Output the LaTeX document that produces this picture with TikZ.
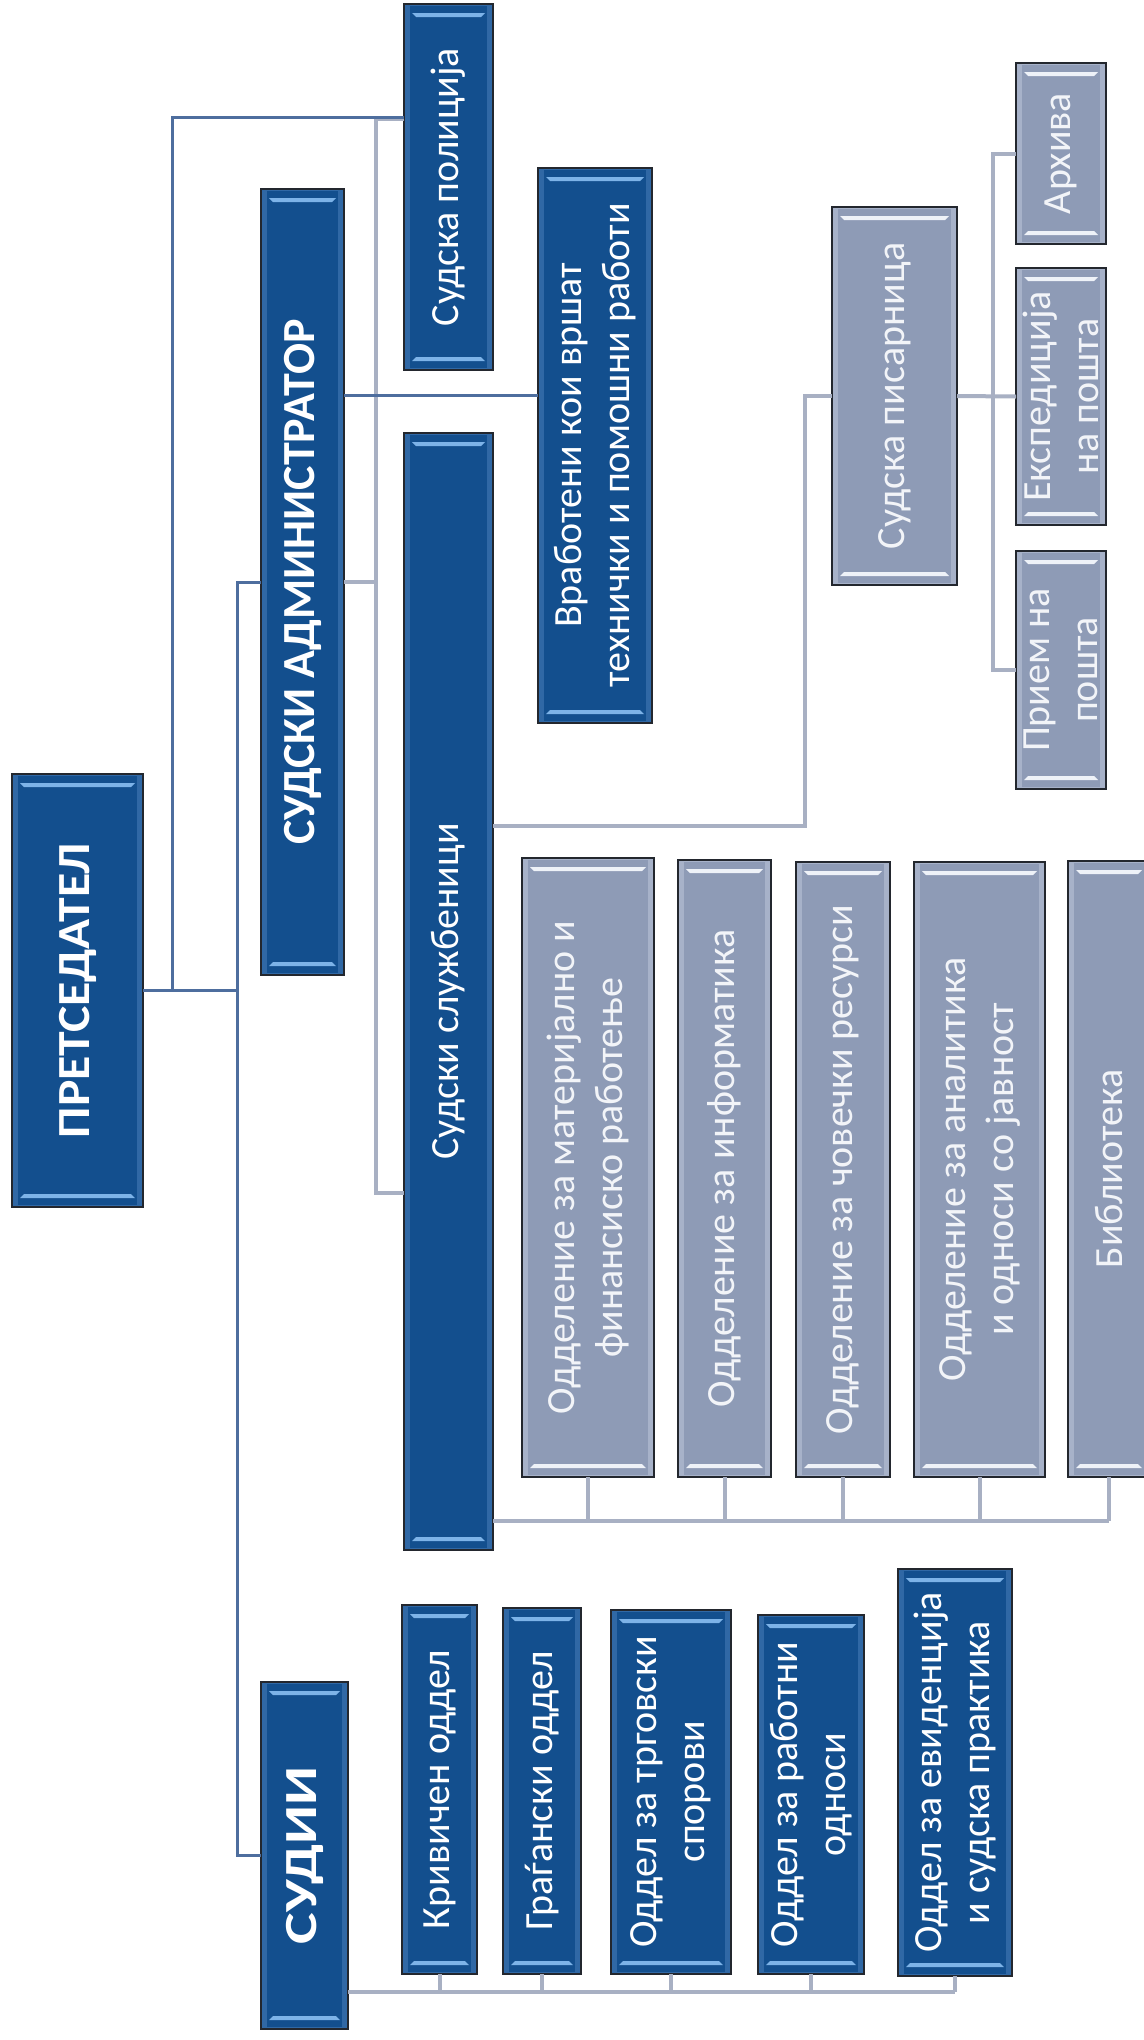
\documentclass[tikz,border=0pt]{standalone}
\usepackage{fontspec}
\usepackage{graphicx}
\setmainfont{Carlito}
\definecolor{dkfill}{HTML}{134F8E}
\definecolor{dkedge}{HTML}{3068A5}
\definecolor{dkhi}{HTML}{7DB3E8}
\definecolor{gyfill}{HTML}{8E9BB6}
\definecolor{gyedge}{HTML}{A7B2C9}
\definecolor{gyhi}{HTML}{EEF2F8}
\definecolor{bord}{HTML}{23272E}
\definecolor{dkline}{HTML}{4E6E9E}
\definecolor{ltline}{HTML}{A8B0C3}
\definecolor{gytext}{HTML}{F2F4F8}
\tikzset{
  boxbase/.style={rectangle, draw=bord, line width=0.8pt, inner sep=0pt, outer sep=0pt},
  bevel/.style n args={3}{path picture={
     \fill[#1] (path picture bounding box.south west) rectangle (path picture bounding box.north east);
     \fill[#2] ([xshift=3pt,yshift=-1pt]path picture bounding box.north west) rectangle ([xshift=-3pt,yshift=1pt]path picture bounding box.south east);
     \fill[#3] ([xshift=4pt,yshift=-4.5pt]path picture bounding box.north west) -- ([xshift=-4pt,yshift=-4.5pt]path picture bounding box.north east) -- ([xshift=-6pt,yshift=-6.5pt]path picture bounding box.north east) -- ([xshift=6pt,yshift=-6.5pt]path picture bounding box.north west) -- cycle;
     \fill[#3] ([xshift=4pt,yshift=4.5pt]path picture bounding box.south west) -- ([xshift=-4pt,yshift=4.5pt]path picture bounding box.south east) -- ([xshift=-6pt,yshift=6.5pt]path picture bounding box.south east) -- ([xshift=6pt,yshift=6.5pt]path picture bounding box.south west) -- cycle;
  }},
  dkbox/.style={boxbase, bevel={dkedge}{dkfill}{dkhi}},
  gybox/.style={boxbase, bevel={gyedge}{gyfill}{gyhi}},
  tx/.style={rotate=90, text=white, align=center, inner sep=0pt, font=\fontsize{20}{24}\selectfont},
  gtx/.style={tx, text=gytext},
  btx/.style={tx, font=\bfseries\fontsize{23}{27}\selectfont},
  dkl/.style={draw=dkline, line width=1.5pt},
  ltl/.style={draw=ltline, line width=2pt},
}
\newcommand\mkbox[6]{%
  \node[#1, minimum width={(#5-#3)*0.5pt}, minimum height={(#6-#4)*0.5pt}] (#2) at ({(#3+#5)/2},{(#4+#6)/2}) {};}
\begin{document}
\begin{tikzpicture}[x=0.5pt, y=-0.5pt]
\useasboundingbox (0,0) rectangle (1144,2040);
\fill[white] (0,0) rectangle (1144,2040);
% boxes
\mkbox{dkbox}{pres}{12}{774}{143}{1207}
\mkbox{dkbox}{admin}{261}{189}{344}{975}
\mkbox{dkbox}{judges}{261}{1682}{348}{2029}
\mkbox{dkbox}{police}{404}{4}{493}{370}
\mkbox{dkbox}{clerks}{404}{433}{493}{1550}
\mkbox{dkbox}{workers}{538}{168}{652}{723}
\mkbox{gybox}{pis}{832}{207}{957}{585}
\mkbox{gybox}{arh}{1016}{63}{1106}{244}
\mkbox{gybox}{eksp}{1016}{268}{1106}{525}
\mkbox{gybox}{priem}{1016}{551}{1106}{789}
\mkbox{gybox}{od1}{522}{858}{654}{1477}
\mkbox{gybox}{od2}{678}{860}{771}{1477}
\mkbox{gybox}{od3}{796}{862}{890}{1477}
\mkbox{gybox}{od4}{914}{862}{1045}{1477}
\mkbox{gybox}{od5}{1068}{861}{1150}{1477}
\mkbox{dkbox}{krim}{402}{1605}{477}{1974}
\mkbox{dkbox}{grag}{503}{1608}{581}{1974}
\mkbox{dkbox}{trg}{611}{1610}{731}{1974}
\mkbox{dkbox}{rab}{758}{1615}{864}{1974}
\mkbox{dkbox}{evid}{898}{1569}{1012}{1976}
% texts
\node[btx] (pres-t) at (pres) {\scalebox{1.08}[1]{ПРЕТСЕДАТЕЛ}};
\node[btx] (admin-t) at (admin) {СУДСКИ АДМИНИСТРАТОР};
\node[btx] (judges-t) at (judges) {\scalebox{1.3}[1]{СУДИИ}};
\node[tx] (police-t) at (police) {Судска полиција};
\node[tx] (clerks-t) at (clerks) {Судски службеници};
\node[tx] (workers-t) at (workers) {Вработени кои вршат\\технички и помошни работи};
\node[gtx] (pis-t) at (pis) {Судска писарница};
\node[gtx] (arh-t) at (arh) {Архива};
\node[gtx] (eksp-t) at (eksp) {Експедиција\\на пошта};
\node[gtx] (priem-t) at (priem) {Прием на\\пошта};
\node[gtx] (od1-t) at (od1) {Одделение за материјално и\\финансиско работење};
\node[gtx] (od2-t) at (od2) {Одделение за информатика};
\node[gtx] (od3-t) at (od3) {Одделение за човечки ресурси};
\node[gtx] (od4-t) at (od4) {Одделение за аналитика\\и односи со јавност};
\node[gtx] (od5-t) at (od5) {Библиотека};
\node[tx] (krim-t) at (krim) {Кривичен оддел};
\node[tx] (grag-t) at (grag) {Граѓански оддел};
\node[tx] (trg-t) at (trg) {Оддел за трговски\\спорови};
\node[tx] (rab-t) at (rab) {Оддел за работни\\односи};
\node[tx] (evid-t) at (evid) {Оддел за евиденција\\и судска практика};
% connector guide coordinates
\coordinate (px) at (172,0);
\coordinate (jx) at (237,0);
\coordinate (lx) at (376,0);
\coordinate (sx) at (805,0);
\coordinate (ax) at (993,0);
\coordinate (cb) at (0,1521);
\coordinate (jb) at (0,1992);
% light connectors
\draw[ltl] (admin.east) -- (admin.east -| lx);
\draw[ltl] (police.west |- 0,119) -| (lx |- 0,1193) -- (clerks.west |- 0,1193);
\draw[ltl] (clerks.east |- 0,826) -| (sx |- pis.west) -- (pis.west);
\draw[ltl] (pis.east) -- (eksp.west);
\draw[ltl] (arh.west) -| (ax |- priem.west) -- (priem.west);
\draw[ltl] (clerks.east |- cb) -- (od5.south |- cb);
\foreach \n in {od1,od2,od3,od4,od5} \draw[ltl] (\n.south) -- (\n.south |- cb);
\draw[ltl] (judges.east |- jb) -- (evid.south |- jb);
\foreach \n in {krim,grag,trg,rab,evid} \draw[ltl] (\n.south) -- (\n.south |- jb);
% dark connectors
\draw[dkl] (pres.east) -- (pres.east -| jx);
\draw[dkl] (pres.east -| px) |- (police.west |- 0,117);
\draw[dkl] (admin.west) -| (jx |- judges.west) -- (judges.west);
\draw[dkl] (admin.east |- 0,395) -- (workers.west |- 0,395);
\end{tikzpicture}
\end{document}
